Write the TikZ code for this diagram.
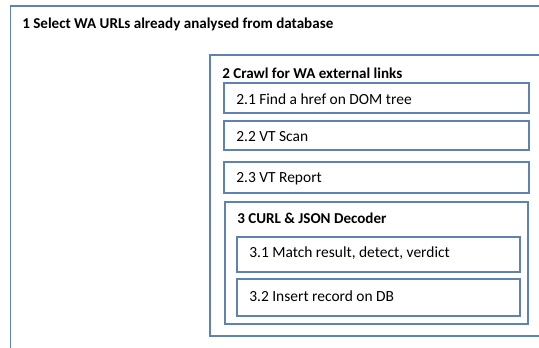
\documentclass[tikz,border=0pt]{standalone}
\usepackage{fontspec}
\setmainfont{Carlito}
\begin{document}
\begin{tikzpicture}[x=0.75pt,y=-0.75pt,
  box/.style={draw=boxblue,line width=0.9pt},
  lbl/.style={anchor=west,inner sep=0pt,font=\fontsize{11.6}{13}\selectfont},
  blbl/.style={lbl,font=\fontsize{11.3}{13}\selectfont\bfseries}]
\definecolor{boxblue}{RGB}{95,130,175}
\useasboundingbox (0,0) rectangle (539,347);
\clip (0,0) rectangle (539,347);
\draw[box] (10.5,6) rectangle (560,370);
\draw[box] (210,55) rectangle (560,336);
\draw[box] (224,83) rectangle (529,113);
\draw[box] (224,121) rectangle (529,150);
\draw[box] (224,162) rectangle (529,193);
\draw[box] (225,202) rectangle (528,324);
\draw[box] (237,237) rectangle (520,272);
\draw[box] (237,279) rectangle (520,316);
\node[blbl] (t1) at (22,24) {1 Select WA URLs already analysed from database};
\node[blbl] (t2) at (222,73) {2 Crawl for WA external links};
\node[lbl] (t21) at (236,99) {2.1 Find a href on DOM tree};
\node[lbl] (t22) at (236,137) {2.2 VT Scan};
\node[lbl] (t23) at (236,179) {2.3 VT Report};
\node[blbl] (t3) at (237,218) {3 CURL \& JSON Decoder};
\node[lbl] (t31) at (249,253) {3.1 Match result, detect, verdict};
\node[lbl] (t32) at (249,296) {3.2 Insert record on DB};
\end{tikzpicture}
\end{document}
